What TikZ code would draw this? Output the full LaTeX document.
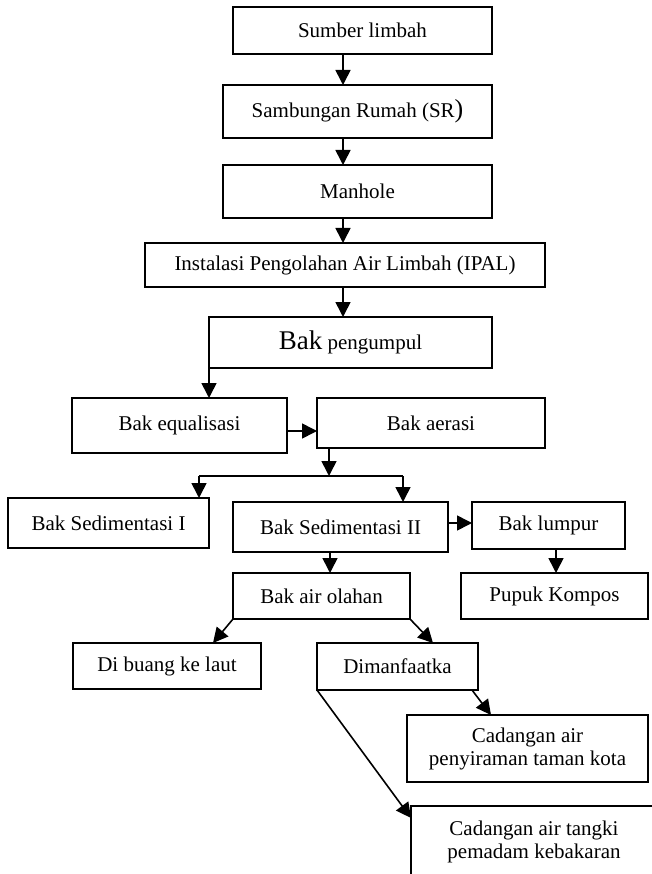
\documentclass[tikz,border=0pt]{standalone}
\usepackage{fontspec}
\setmainfont{Liberation Serif}
\usetikzlibrary{arrows.meta}
\begin{document}
\begin{tikzpicture}[x=1pt,y=-1pt,
  box/.style={draw,line width=1.8pt,inner sep=0pt,outer sep=0pt,align=center,
    font=\fontsize{21}{23}\selectfont},
  arr/.style={line width=1.6pt,-{Triangle[length=15pt,width=15pt]}},
  ln/.style={line width=1.6pt}]
\useasboundingbox (0,0) rectangle (652,874);
\begin{scope}
\clip (0,0) rectangle (652,874);
\node[box,minimum width=259pt,minimum height=47pt] (sumber) at (362.5,30.5) {Sumber limbah};
\node[box,minimum width=269pt,minimum height=53pt] (sr) at (357.5,111.5) {Sambungan Rumah (SR{\fontsize{26}{28}\selectfont )}};
\node[box,minimum width=269pt,minimum height=53pt] (manhole) at (357.5,191.5) {Manhole};
\node[box,minimum width=400pt,minimum height=44pt] (ipal) at (345,265) {Instalasi Pengolahan Air Limbah (IPAL)};
\node[box,minimum width=283pt,minimum height=51pt] (pengumpul) at (350.5,342.5) {{\fontsize{27}{29}\selectfont Bak} pengumpul};
\node[box,minimum width=215pt,minimum height=55pt] (equal) at (179.5,425.5) {Bak equalisasi};
\node[box,minimum width=228pt,minimum height=50pt] (aerasi) at (431,423) {Bak aerasi};
\node[box,minimum width=201pt,minimum height=50pt] (sed1) at (108.5,523) {Bak Sedimentasi I};
\node[box,minimum width=215pt,minimum height=50pt] (sed2) at (340.5,527) {Bak Sedimentasi II};
\node[box,minimum width=153pt,minimum height=47pt] (lumpur) at (548.5,525.5) {Bak lumpur};
\node[box,minimum width=177pt,minimum height=46pt] (olahan) at (321.5,596) {Bak air olahan};
\node[box,minimum width=187pt,minimum height=46pt] (pupuk) at (554.5,596) {Pupuk Kompos};
\node[box,minimum width=188pt,minimum height=46pt] (buang) at (167,666) {Di buang ke laut};
\node[box,minimum width=161pt,minimum height=47pt] (manfaat) at (397.5,666.5) {Dimanfaatka};
\node[box,minimum width=241pt,minimum height=67pt] (cad1) at (527.5,748.5) {Cadangan air\\penyiraman taman kota};
\node[box,minimum width=246pt,minimum height=72pt] (cad2) at (534,842) {Cadangan air tangki\\pemadam kebakaran};

\coordinate (xmain) at (343,0);
\coordinate (ya) at (0,431);
\coordinate (br) at (329,476);
\coordinate (bl) at (199,476);
\coordinate (brr) at (403,476);
\coordinate (yl) at (0,523);
\coordinate (xo) at (330,0);
\coordinate (xp) at (556,0);
\coordinate (tb) at (213,0);
\coordinate (tm) at (433,0);
\coordinate (s1) at (472,0);
\coordinate (e1) at (491,0);
\coordinate (e2) at (0,818);

\draw[arr] (sumber.south -| xmain) -- (sr.north -| xmain);
\draw[arr] (sr.south -| xmain) -- (manhole.north -| xmain);
\draw[arr] (manhole.south -| xmain) -- (ipal.north -| xmain);
\draw[arr] (ipal.south -| xmain) -- (pengumpul.north -| xmain);
\draw[arr] (pengumpul.south west) -- (pengumpul.south west |- equal.north);
\draw[arr] (equal.east |- ya) -- (aerasi.west |- ya);
\draw[arr] (aerasi.south -| br) -- (br);
\draw[ln] (bl) -- (brr);
\draw[arr] (bl) -- (bl |- sed1.north);
\draw[arr] (brr) -- (brr |- sed2.north);
\draw[arr] (sed2.east |- yl) -- (lumpur.west |- yl);
\draw[arr] (sed2.south -| xo) -- (olahan.north -| xo);
\draw[arr] (lumpur.south -| xp) -- (pupuk.north -| xp);
\draw[arr] (olahan.south west) -- (buang.north -| tb);
\draw[arr] (olahan.south east) -- (manfaat.north -| tm);
\draw[arr] (manfaat.south -| s1) -- (cad1.north -| e1);
\draw[arr] (manfaat.south west) -- (cad2.west |- e2);
\end{scope}
\end{tikzpicture}
\end{document}
